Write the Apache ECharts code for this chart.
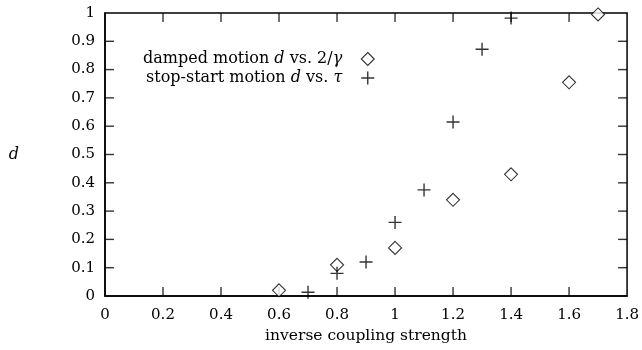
<!DOCTYPE html>
<html lang="en">
<head>
    <meta charset="UTF-8">
    <title>d vs inverse coupling strength</title>
    <script src="https://cdn.jsdelivr.net/npm/echarts@6/dist/echarts.min.js"></script>
</head>
<body style="margin:0; background:#fff;">
    <div id="main" style="width: 642px; height: 350px;"></div>
    <script>
        // data
        const dampedX = [0.6, 0.8, 1.0, 1.2, 1.4, 1.6, 1.7];
        const dampedY = [0.02, 0.11, 0.17, 0.34, 0.43, 0.755, 0.995];
        const stopX = [0.7, 0.8, 0.9, 1.0, 1.1, 1.2, 1.3, 1.4];
        const stopY = [0.013, 0.08, 0.12, 0.26, 0.375, 0.615, 0.872, 0.982];
        const xTicks = [0.2, 0.4, 0.6, 0.8, 1, 1.2, 1.4, 1.6];
        const yTicks = [0.1, 0.2, 0.3, 0.4, 0.5, 0.6, 0.7, 0.8, 0.9];

        const font = 'DejaVu Serif';
        const plus = 'path://M0,5L10,5M5,0L5,10';
        const tickLen = 9;

        const myChart = echarts.init(document.getElementById('main'));

        const line = { show: true, onZero: false, lineStyle: { color: '#000', width: 1.5 } };
        const label = { color: '#000', fontFamily: font, fontSize: 15 };
        const fmt = v => String(+v.toFixed(1));

        // inside ticks on all four sides of the frame (gnuplot style), drawn as thin rect symbols
        function tickSeries(data, vertical, sign) {
            return {
                type: 'scatter', silent: true, z: 1,
                symbol: 'rect',
                symbolSize: vertical ? [1.4, tickLen] : [tickLen, 1.4],
                symbolOffset: vertical ? [0, sign * tickLen / 2] : [sign * tickLen / 2, 0],
                itemStyle: { color: '#000' },
                data: data
            };
        }

        const option = {
            animation: false,
            grid: { left: 105, right: 13, top: 13, bottom: 54, show: true, borderColor: '#000', borderWidth: 1.5 },
            legend: {
                orient: 'vertical',
                left: 138,
                top: 46,
                align: 'right',
                itemWidth: 13,
                itemHeight: 13,
                itemGap: 2,
                textStyle: {
                    fontFamily: font, fontSize: 16, color: '#000', lineHeight: 13, padding: [0, 14, 0, 0],
                    rich: { i: { fontFamily: font, fontStyle: 'italic', fontSize: 16, color: '#000', lineHeight: 13 } }
                },
                formatter: function (name) {
                    return name === 'damped'
                        ? 'damped motion {i|d} vs. 2/{i|γ}'
                        : 'stop-start motion {i|d} vs. {i|τ}';
                },
                data: [
                    { name: 'damped', itemStyle: { color: '#fff', borderColor: '#000', borderWidth: 1.1 } },
                    { name: 'stop', itemStyle: { color: 'none', borderColor: '#000', borderWidth: 1.4 } }
                ]
            },
            xAxis: {
                type: 'value', min: 0, max: 1.8, interval: 0.2,
                name: 'inverse coupling strength', nameLocation: 'middle', nameGap: 31,
                nameTextStyle: { color: '#000', fontFamily: font, fontSize: 15.5 },
                axisLine: line, axisTick: { show: false }, splitLine: { show: false },
                axisLabel: Object.assign({ margin: 12, formatter: fmt }, label)
            },
            yAxis: {
                type: 'value', min: 0, max: 1, interval: 0.1,
                name: 'd', nameLocation: 'middle', nameRotate: 0, nameGap: 86,
                nameTextStyle: { color: '#000', fontFamily: font, fontSize: 16, fontStyle: 'italic' },
                axisLine: line, axisTick: { show: false }, splitLine: { show: false },
                axisLabel: Object.assign({ margin: 10, formatter: fmt }, label)
            },
            series: [
                tickSeries(xTicks.map(v => [v, 0]), true, -1),
                tickSeries(xTicks.map(v => [v, 1]), true, 1),
                tickSeries(yTicks.map(v => [0, v]), false, 1),
                tickSeries(yTicks.map(v => [1.8, v]), false, -1),
                {
                    name: 'damped', type: 'scatter', z: 3,
                    symbol: 'diamond', symbolSize: 13,
                    itemStyle: { color: '#fff', borderColor: '#000', borderWidth: 1.1 },
                    data: dampedX.map((x, i) => [x, dampedY[i]])
                }, {
                    name: 'stop', type: 'scatter', z: 3,
                    symbol: plus, symbolSize: 13,
                    itemStyle: { color: 'none', borderColor: '#000', borderWidth: 1.4 },
                    data: stopX.map((x, i) => [x, stopY[i]])
                }
            ]
        };

        myChart.setOption(option);
    </script>
</body>
</html>
